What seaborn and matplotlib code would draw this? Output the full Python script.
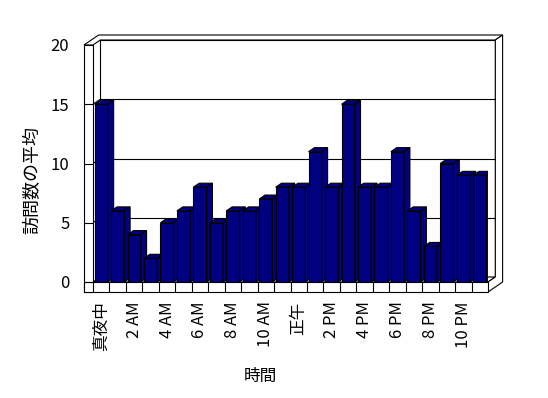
import pandas as pd
import seaborn as sns
import matplotlib
matplotlib.use("Agg")
import matplotlib.pyplot as plt
from matplotlib.patches import Polygon, Rectangle

# データ
hours = ["真夜中", "1 AM", "2 AM", "3 AM", "4 AM", "5 AM", "6 AM", "7 AM",
         "8 AM", "9 AM", "10 AM", "11 AM", "正午", "1 PM", "2 PM", "3 PM",
         "4 PM", "5 PM", "6 PM", "7 PM", "8 PM", "9 PM", "10 PM", "11 PM"]
visits = [15, 6, 4, 2, 5, 6, 8, 5, 6, 6, 7, 8,
          8, 11, 8, 15, 8, 8, 11, 6, 3, 10, 9, 9]
y_ticks = [0, 5, 10, 15, 20]
x_label = "時間"
y_label = "訪問数の平均"

NAVY = "#000080"


def set_config():
    sns.set_theme(style="white")
    plt.rcParams["font.family"] = ["Noto Sans CJK JP", "DejaVu Sans"]
    plt.rcParams["text.color"] = "black"
    plt.rcParams["axes.labelcolor"] = "black"
    plt.rcParams["xtick.color"] = "black"
    plt.rcParams["ytick.color"] = "black"


def px(x0, y0, x1, y1, W=548, H=398):
    # ピクセル座標 -> figure座標
    return [x0 / W, 1 - y1 / H, (x1 - x0) / W, (y1 - y0) / H]


def draw_chart():
    fig = plt.figure(figsize=(5.48, 3.98), dpi=100)
    ax = fig.add_axes(px(93, 45, 488, 282))

    df = pd.DataFrame({"hour": hours, "visits": visits})
    sns.barplot(data=df, x="hour", y="visits", order=hours, color=NAVY,
                saturation=1, edgecolor="black", linewidth=0.8, width=0.8,
                ax=ax)

    n = len(hours)
    xmin, xmax = -0.5, n - 0.5
    ymax = y_ticks[-1]
    ax.set_xlim(xmin, xmax)
    ax.set_ylim(0, ymax)

    # 奥行き (1段目 = 背面の内側, 2段目 = 外側)
    cat_px = 395 / n
    val_px = 237 / ymax
    d1x, d1y = 7.3 / cat_px, 5 / val_px
    d2x, d2y = 2 * d1x, 2 * d1y
    wall = 9 / cat_px        # 左の壁の厚さ
    floor = 10 / val_px      # 床の厚さ
    lw = 0.8
    kw = dict(fc="white", ec="black", lw=lw, clip_on=False, zorder=1)

    # 背面
    ax.add_patch(Rectangle((xmin + d1x, d1y), xmax - xmin, ymax, **kw))
    for t in y_ticks[1:-1]:
        ax.plot([xmin + d1x, xmax + d1x], [t + d1y, t + d1y], color="black",
                lw=lw, zorder=1.1, clip_on=False)
        ax.plot([xmin, xmin + d1x], [t, t + d1y], color="black",
                lw=lw, zorder=1.1, clip_on=False)

    # 床の上面
    ax.add_patch(Polygon([(xmin, 0), (xmax, 0), (xmax + d1x, d1y),
                          (xmin + d1x, d1y)], **kw))

    # 上の縁
    ax.add_patch(Polygon([(xmin - wall, ymax), (xmin, ymax),
                          (xmin + d1x, ymax + d1y), (xmax + d1x, ymax + d1y),
                          (xmax + d2x, ymax + d2y),
                          (xmin - wall + d2x, ymax + d2y)], **kw))
    # 右の縁
    ax.add_patch(Polygon([(xmax, -floor), (xmax, 0), (xmax + d1x, d1y),
                          (xmax + d1x, ymax + d1y), (xmax + d2x, ymax + d2y),
                          (xmax + d2x, d2y - floor)], **kw))

    # 左の壁・床の前面
    kw5 = dict(kw, zorder=5)
    ax.add_patch(Rectangle((xmin - wall, -floor), wall, ymax + floor, **kw5))
    ax.add_patch(Rectangle((xmin - wall, -floor), xmax - xmin + wall, floor,
                           **kw5))
    for k in range(n):
        ax.plot([xmin + k, xmin + k], [-floor, 0], color="black", lw=lw,
                zorder=5.1, clip_on=False)
    for t in y_ticks[:-1]:
        ax.plot([xmin - wall, xmin], [t, t], color="black", lw=lw,
                zorder=5.1, clip_on=False)

    # 3Dの棒 (上面と側面)
    bars = list(ax.patches)[:n]
    bx, by = 0.8 * d1x, 0.8 * d1y
    for i, p in enumerate(bars):
        z = 3 + i * 0.01
        p.set_zorder(z)
        x0, w, h = p.get_x(), p.get_width(), p.get_height()
        top = [(x0, h), (x0 + w, h), (x0 + w + bx, h + by), (x0 + bx, h + by)]
        side = [(x0 + w, 0), (x0 + w, h), (x0 + w + bx, h + by),
                (x0 + w + bx, by)]
        for poly in (top, side):
            ax.add_patch(Polygon(poly, fc=NAVY, ec="black", lw=lw, zorder=z))

    # 軸
    for s in ax.spines.values():
        s.set_visible(False)
    ax.patch.set_visible(False)
    ax.set_yticks(y_ticks)
    ax.set_yticklabels([str(t) for t in y_ticks])
    ax.set_xticks(range(0, n, 2))
    ax.set_xticklabels(hours[::2], rotation=90, va="top", ha="center")
    ax.tick_params(axis="y", length=0, pad=17, labelsize=12)
    ax.tick_params(axis="x", length=0, pad=14, labelsize=12)

    ax.set_xlabel(x_label, fontsize=12)
    ax.xaxis.set_label_coords(0.423, -0.40)
    ax.xaxis.label.set_va("center")
    ax.set_ylabel(y_label, fontsize=13)
    ax.yaxis.set_label_coords(-0.154, 0.43)
    ax.yaxis.label.set_va("center")

    fig.savefig("out.png", dpi=100, facecolor="white")


def main():
    set_config()
    draw_chart()


if __name__ == "__main__":
    main()
